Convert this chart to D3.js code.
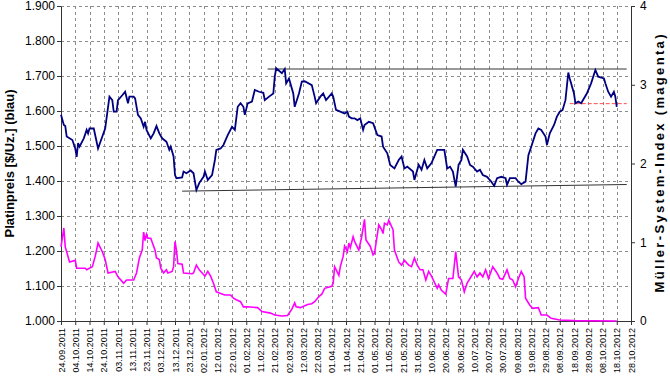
<!DOCTYPE html>
<html>
<head>
<meta charset="utf-8">
<script src="https://cdn.jsdelivr.net/npm/d3@7"></script>
<style>
	body { margin: 0; background: #fff; }
	text { font-family: "Liberation Sans", Arial, sans-serif; fill: #000; }
</style>
</head>
<body>
<div id="chart-area"></div>
<script>
let width = 670;
let height = 376;

// x axis labels (every 10 days)
let dateLabels = ["24.09.2011","04.10.2011","14.10.2011","24.10.2011","03.11.2011","13.11.2011","23.11.2011",
	"03.12.2011","13.12.2011","23.12.2011","02.01.2012","12.01.2012","22.01.2012","01.02.2012","11.02.2012",
	"21.02.2012","02.03.2012","12.03.2012","22.03.2012","01.04.2012","11.04.2012","21.04.2012","01.05.2012",
	"11.05.2012","21.05.2012","31.05.2012","10.06.2012","20.06.2012","30.06.2012","10.07.2012","20.07.2012",
	"30.07.2012","09.08.2012","19.08.2012","29.08.2012","08.09.2012","18.09.2012","28.09.2012","08.10.2012",
	"18.10.2012","28.10.2012"];

let priceTicks = [1000, 1100, 1200, 1300, 1400, 1500, 1600, 1700, 1800, 1900];
let indexTicks = [0, 1, 2, 3, 4];

// Platinpreis in $/Uz.
let priceData = [
	["24.09.2011",1589],["26.09.2011",1560],["27.09.2011",1557],["28.09.2011",1527],["02.10.2011",1517],["04.10.2011",1493],
	["05.10.2011",1469],["06.10.2011",1508],["07.10.2011",1498],["10.10.2011",1522],["12.10.2011",1546],["13.10.2011",1536],
	["14.10.2011",1550],["17.10.2011",1550],["20.10.2011",1493],["23.10.2011",1527],["25.10.2011",1550],["28.10.2011",1641],
	["30.10.2011",1631],["31.10.2011",1598],["02.11.2011",1598],["03.11.2011",1631],["06.11.2011",1645],["08.11.2011",1655],
	["10.11.2011",1622],["11.11.2011",1641],["14.11.2011",1641],["15.11.2011",1636],["17.11.2011",1589],["19.11.2011",1579],
	["21.11.2011",1555],["22.11.2011",1569],["23.11.2011",1546],["26.11.2011",1522],["28.11.2011",1536],["30.11.2011",1557],
	["02.12.2011",1536],["04.12.2011",1522],["07.12.2011",1512],["09.12.2011",1489],["10.12.2011",1498],["12.12.2011",1470],
	["13.12.2011",1417],["14.12.2011",1408],["18.12.2011",1410],["19.12.2011",1427],["21.12.2011",1422],["24.12.2011",1430],
	["26.12.2011",1422],["27.12.2011",1398],["28.12.2011",1374],["30.12.2011",1394],["02.01.2012",1412],["03.01.2012",1427],
	["05.01.2012",1403],["08.01.2012",1417],["10.01.2012",1460],["11.01.2012",1489],["14.01.2012",1493],["16.01.2012",1503],
	["18.01.2012",1522],["19.01.2012",1531],["22.01.2012",1555],["24.01.2012",1546],["26.01.2012",1612],["28.01.2012",1622],
	["30.01.2012",1612],["31.01.2012",1589],["02.02.2012",1622],["05.02.2012",1627],["07.02.2012",1660],["10.02.2012",1655],
	["13.02.2012",1652],["14.02.2012",1631],["17.02.2012",1641],["20.02.2012",1650],["21.02.2012",1698],["22.02.2012",1722],
	["26.02.2012",1708],["28.02.2012",1720],["29.02.2012",1679],["02.03.2012",1693],["05.03.2012",1650],["06.03.2012",1612],
	["09.03.2012",1650],["11.03.2012",1684],["13.03.2012",1685],["18.03.2012",1674],["20.03.2012",1641],["21.03.2012",1622],
	["24.03.2012",1641],["26.03.2012",1650],["28.03.2012",1631],["01.04.2012",1650],["02.04.2012",1641],["04.04.2012",1603],
	["07.04.2012",1598],["10.04.2012",1593],["12.04.2012",1598],["13.04.2012",1584],["15.04.2012",1579],["17.04.2012",1579],
	["19.04.2012",1574],["21.04.2012",1579],["23.04.2012",1546],["24.04.2012",1560],["27.04.2012",1569],["30.04.2012",1565],
	["03.05.2012",1531],["06.05.2012",1527],["07.05.2012",1498],["10.05.2012",1479],["12.05.2012",1446],["15.05.2012",1436],
	["18.05.2012",1460],["20.05.2012",1470],["22.05.2012",1436],["24.05.2012",1441],["28.05.2012",1427],["29.05.2012",1403],
	["01.06.2012",1446],["03.06.2012",1432],["05.06.2012",1460],["07.06.2012",1436],["10.06.2012",1451],["14.06.2012",1489],
	["16.06.2012",1489],["19.06.2012",1489],["21.06.2012",1436],["23.06.2012",1441],["25.06.2012",1427],["27.06.2012",1384],
	["29.06.2012",1446],["01.07.2012",1460],["02.07.2012",1489],["05.07.2012",1470],["07.07.2012",1446],["09.07.2012",1441],
	["12.07.2012",1427],["14.07.2012",1432],["16.07.2012",1417],["19.07.2012",1412],["22.07.2012",1398],["24.07.2012",1386],
	["26.07.2012",1408],["29.07.2012",1412],["01.08.2012",1408],["02.08.2012",1389],["04.08.2012",1408],["08.08.2012",1408],
	["10.08.2012",1398],["12.08.2012",1391],["15.08.2012",1398],["17.08.2012",1474],["19.08.2012",1498],["22.08.2012",1536],
	["24.08.2012",1550],["26.08.2012",1546],["29.08.2012",1527],["30.08.2012",1503],["01.09.2012",1536],["04.09.2012",1560],
	["06.09.2012",1584],["08.09.2012",1598],["10.09.2012",1603],["12.09.2012",1631],["14.09.2012",1710],["15.09.2012",1693],
	["18.09.2012",1650],["19.09.2012",1622],["21.09.2012",1627],["23.09.2012",1622],["27.09.2012",1650],["30.09.2012",1679],
	["03.10.2012",1717],["05.10.2012",1698],["09.10.2012",1693],["10.10.2012",1679],["12.10.2012",1655],["14.10.2012",1641],
	["16.10.2012",1655],["17.10.2012",1641],["18.10.2012",1612]
];

// Müller-System-Index
let indexData = [
	["24.09.2011",0.94],["26.09.2011",1.18],["27.09.2011",0.94],["30.09.2011",0.75],["04.10.2011",0.77],["05.10.2011",0.67],
	["11.10.2011",0.67],["12.10.2011",0.65],["16.10.2011",0.69],["18.10.2011",0.82],["20.10.2011",0.99],["23.10.2011",0.88],
	["25.10.2011",0.78],["27.10.2011",0.61],["01.11.2011",0.63],["03.11.2011",0.56],["07.11.2011",0.48],["09.11.2011",0.52],
	["14.11.2011",0.52],["16.11.2011",0.61],["18.11.2011",0.80],["20.11.2011",0.90],["21.11.2011",1.13],["22.11.2011",1.02],
	["23.11.2011",1.10],["24.11.2011",1.05],["26.11.2011",1.05],["29.11.2011",0.90],["30.11.2011",0.80],["02.12.2011",0.78],
	["03.12.2011",0.67],["05.12.2011",0.61],["07.12.2011",0.65],["08.12.2011",0.61],["11.12.2011",0.63],["12.12.2011",0.69],
	["13.12.2011",1.01],["14.12.2011",0.90],["15.12.2011",0.73],["18.12.2011",0.72],["19.12.2011",0.61],["25.12.2011",0.60],
	["26.12.2011",0.61],["28.12.2011",0.71],["30.12.2011",0.65],["02.01.2012",0.59],["03.01.2012",0.57],["05.01.2012",0.63],
	["07.01.2012",0.57],["09.01.2012",0.48],["11.01.2012",0.37],["14.01.2012",0.35],["17.01.2012",0.33],["21.01.2012",0.33],
	["23.01.2012",0.29],["25.01.2012",0.27],["28.01.2012",0.245],["30.01.2012",0.18],["02.02.2012",0.18],["09.02.2012",0.17],
	["12.02.2012",0.12],["18.02.2012",0.10],["21.02.2012",0.076],["26.02.2012",0.063],["01.03.2012",0.07],["04.03.2012",0.15],
	["06.03.2012",0.23],["07.03.2012",0.18],["10.03.2012",0.17],["15.03.2012",0.21],["18.03.2012",0.22],["20.03.2012",0.245],
	["23.03.2012",0.31],["25.03.2012",0.34],["27.03.2012",0.415],["01.04.2012",0.44],["02.04.2012",0.48],["03.04.2012",0.69],
	["06.04.2012",0.58],["07.04.2012",0.69],["09.04.2012",0.82],["10.04.2012",0.95],["12.04.2012",0.88],["13.04.2012",0.99],
	["14.04.2012",0.93],["16.04.2012",1.07],["17.04.2012",1.01],["20.04.2012",0.90],["22.04.2012",1.07],["24.04.2012",1.29],
	["25.04.2012",1.03],["28.04.2012",0.95],["30.04.2012",0.84],["01.05.2012",0.86],["04.05.2012",1.22],["06.05.2012",1.16],
	["07.05.2012",1.11],["08.05.2012",1.24],["10.05.2012",1.22],["11.05.2012",1.28],["14.05.2012",1.16],["15.05.2012",0.90],
	["18.05.2012",0.75],["20.05.2012",0.71],["22.05.2012",0.77],["25.05.2012",0.71],["27.05.2012",0.69],["29.05.2012",0.80],
	["31.05.2012",0.71],["02.06.2012",0.65],["04.06.2012",0.65],["06.06.2012",0.52],["08.06.2012",0.63],["10.06.2012",0.57],
	["14.06.2012",0.415],["15.06.2012",0.46],["17.06.2012",0.39],["20.06.2012",0.34],["22.06.2012",0.54],["25.06.2012",0.54],
	["27.06.2012",0.88],["29.06.2012",0.56],["01.07.2012",0.52],["03.07.2012",0.37],["05.07.2012",0.48],["07.07.2012",0.54],
	["10.07.2012",0.63],["12.07.2012",0.56],["14.07.2012",0.61],["16.07.2012",0.56],["18.07.2012",0.65],["20.07.2012",0.54],
	["23.07.2012",0.69],["26.07.2012",0.61],["28.07.2012",0.54],["30.07.2012",0.53],["02.08.2012",0.65],["04.08.2012",0.54],
	["06.08.2012",0.52],["08.08.2012",0.435],["10.08.2012",0.54],["12.08.2012",0.63],["14.08.2012",0.56],["15.08.2012",0.29],
	["18.08.2012",0.20],["20.08.2012",0.16],["24.08.2012",0.17],["26.08.2012",0.076],["30.08.2012",0.076],["02.09.2012",0.034],
	["08.09.2012",0.013],["18.09.2012",0.005],["18.10.2012",0]
];

// trend lines (price)
let resistanceLine = [["16.02.2012",1720],["25.10.2012",1720]];
let supportLine = [["18.12.2011",1371],["25.10.2012",1390]];
let targetLine = [["15.09.2012",1621],["25.10.2012",1621]];

let margin = {top: 6, right: 39, bottom: 55, left: 61};
let innerW = width - margin.left - margin.right;
let innerH = height - margin.top - margin.bottom;

let parseDate = d3.utcParse("%d.%m.%Y");
let de = d3.formatLocale({decimal: ",", thousands: ".", grouping: [3], currency: ["", " $"]});

let svg = d3.select("#chart-area")
	.append("svg")
	.attr("width", width)
	.attr("height", height);

let g = svg.append("g")
	.attr("transform", `translate(${margin.left}, ${margin.top})`);

let x = d3.scaleUtc()
	.domain([parseDate(dateLabels[0]), parseDate(dateLabels[dateLabels.length - 1])])
	.range([0, innerW]);

let yPrice = d3.scaleLinear()
	.domain([1000, 1900])
	.range([innerH, 0]);

let yIndex = d3.scaleLinear()
	.domain([0, 4])
	.range([innerH, 0]);

let tickDates = dateLabels.map(parseDate);

// grid lines
g.append("g")
	.selectAll("line")
	.data(priceTicks.slice(1))
	.enter()
	.append("line")
	.attr("x1", 0)
	.attr("x2", innerW)
	.attr("y1", d => Math.round(yPrice(d)) + 0.5)
	.attr("y2", d => Math.round(yPrice(d)) + 0.5)
	.attr("stroke", "#8c8c8c")
	.attr("stroke-dasharray", "3,3");

g.append("g")
	.selectAll("line")
	.data(tickDates.slice(1, -1))
	.enter()
	.append("line")
	.attr("x1", d => Math.round(x(d)) + 0.5)
	.attr("x2", d => Math.round(x(d)) + 0.5)
	.attr("y1", 0)
	.attr("y2", innerH)
	.attr("stroke", "#8c8c8c")
	.attr("stroke-dasharray", "3,3");

// axes
let xAxis = d3.axisBottom(x)
	.tickValues(tickDates)
	.tickFormat(d3.utcFormat("%d.%m.%Y"))
	.tickSize(4)
	.tickSizeOuter(0);

let yAxisLeft = d3.axisLeft(yPrice)
	.tickValues(priceTicks)
	.tickFormat(de.format(",.0f"))
	.tickSize(4)
	.tickSizeOuter(0);

let yAxisRight = d3.axisRight(yIndex)
	.tickValues(indexTicks)
	.tickFormat(d3.format("d"))
	.tickSize(4)
	.tickSizeOuter(0);

let xg = g.append("g")
	.attr("transform", `translate(0, ${innerH})`)
	.call(xAxis);
xg.selectAll("text")
	.attr("transform", "rotate(-90)")
	.attr("text-anchor", "end")
	.attr("x", -7)
	.attr("y", 0)
	.attr("dy", "0.35em")
	.style("font-size", "9px");

let yl = g.append("g").call(yAxisLeft);
yl.selectAll("text").style("font-size", "12px").attr("x", -6);

let yr = g.append("g")
	.attr("transform", `translate(${innerW}, 0)`)
	.call(yAxisRight);
yr.selectAll("text").style("font-size", "12px").attr("x", 9);

svg.selectAll(".domain").attr("stroke", "#333");
svg.selectAll(".tick line").attr("stroke", "#333");

// lines
let line = d3.line()
	.x(d => x(parseDate(d[0])))
	.y(d => yPrice(d[1]));

let indexLine = d3.line()
	.x(d => x(parseDate(d[0])))
	.y(d => yIndex(d[1]));

g.append("path")
	.datum(resistanceLine)
	.attr("d", line)
	.attr("fill", "none")
	.attr("stroke", "#333")
	.attr("stroke-width", 1);

g.append("path")
	.datum(supportLine)
	.attr("d", line)
	.attr("fill", "none")
	.attr("stroke", "#333")
	.attr("stroke-width", 1);

g.append("path")
	.datum(indexData)
	.attr("d", indexLine)
	.attr("fill", "none")
	.attr("stroke", "#ff00ff")
	.attr("stroke-width", 1.6);

g.append("path")
	.datum(targetLine)
	.attr("d", line)
	.attr("fill", "none")
	.attr("stroke", "#ff4d4d")
	.attr("stroke-width", 1)
	.attr("stroke-dasharray", "4,2");

g.append("path")
	.datum(priceData)
	.attr("d", line)
	.attr("fill", "none")
	.attr("stroke", "#000080")
	.attr("stroke-width", 1.8);

// axis titles
svg.append("text")
	.attr("transform", `translate(14, ${margin.top + innerH / 2}) rotate(-90)`)
	.attr("text-anchor", "middle")
	.style("font-size", "13px")
	.style("font-weight", "bold")
	.text("Platinpreis [$/Uz.] (blau)");

// Excel draws this rotated title with wide letter spacing
svg.append("text")
	.attr("transform", `translate(${width - 6}, ${margin.top + innerH / 2}) rotate(-90)`)
	.attr("text-anchor", "middle")
	.attr("textLength", 258)
	.attr("lengthAdjust", "spacing")
	.style("font-size", "13px")
	.style("font-weight", "bold")
	.text("Müller-System-Index (magenta)");
</script>
</body>
</html>
